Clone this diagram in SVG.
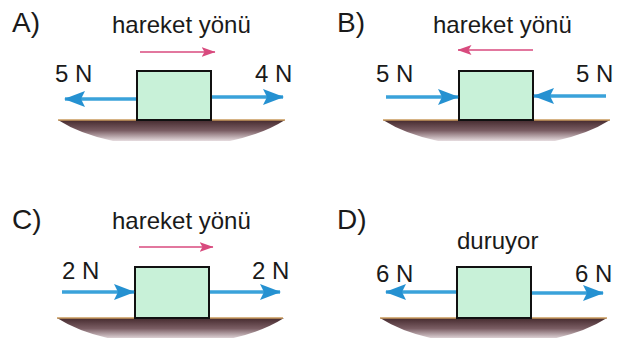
<svg xmlns="http://www.w3.org/2000/svg" width="633" height="338" viewBox="0 0 633 338">
<style>
.lbl{font-family:"Liberation Sans",Arial,sans-serif;font-size:28px;fill:#1a1a1a}
.t{font-family:"Liberation Sans",Arial,sans-serif;font-size:24px;fill:#1a1a1a}
.blk{fill:#c8f1d8;stroke:#111;stroke-width:2}
.fb{stroke:#3aa2da;stroke-width:3.5;fill:none}
.mv{stroke:#d84a7e;stroke-width:1.6;fill:none}
.gl{stroke:#c99a5c;stroke-width:1.5}
</style>
<defs>
<linearGradient id="gg" x1="0" y1="0" x2="0" y2="1">
<stop offset="0" stop-color="#452a2e"/>
<stop offset="0.5" stop-color="#7a5d63"/>
<stop offset="1" stop-color="#e6dcdf"/>
</linearGradient>
<path id="ground" d="M0,0 L227,0 Q205,14 172,21 L55,21 Q22,14 0,0 Z" fill="url(#gg)"/>
<marker id="bh" viewBox="0 0 21 16" refX="20" refY="8" markerWidth="21" markerHeight="16" markerUnits="userSpaceOnUse" orient="auto">
<path d="M0,0 L21,8 L0,16 L4,8 Z" fill="#2591d1"/>
</marker>
<marker id="ph" viewBox="0 0 14 10" refX="13.5" refY="5" markerWidth="14" markerHeight="10" markerUnits="userSpaceOnUse" orient="auto">
<path d="M0,0 L14,5 L0,10 L3,5 Z" fill="#d84a7e"/>
</marker>
</defs>

<g id="panelA">
<text class="lbl" x="12" y="32">A)</text>
<text class="t" x="112" y="33">hareket yönü</text>
<use href="#ground" x="58" y="120"/>
<line class="gl" x1="58" y1="120" x2="285" y2="120"/>
<rect class="blk" x="137" y="71" width="74" height="49"/>
<text class="t" x="55" y="82">5 N</text>
<text class="t" x="255" y="82">4 N</text>
</g>

<g id="panelB">
<text class="lbl" x="337" y="32">B)</text>
<text class="t" x="433" y="33">hareket yönü</text>
<use href="#ground" x="383" y="120"/>
<line class="gl" x1="383" y1="120" x2="610" y2="120"/>
<rect class="blk" x="459" y="71" width="74" height="49"/>
<text class="t" x="376" y="82">5 N</text>
<text class="t" x="576" y="82">5 N</text>
</g>

<g id="panelC">
<text class="lbl" x="12" y="229">C)</text>
<text class="t" x="112" y="229">hareket yönü</text>
<use href="#ground" x="57" y="318"/>
<line class="gl" x1="57" y1="318" x2="283" y2="318"/>
<rect class="blk" x="135" y="267" width="74" height="51"/>
<text class="t" x="62" y="279">2 N</text>
<text class="t" x="252" y="279">2 N</text>
</g>

<g id="panelD">
<text class="lbl" x="337" y="229">D)</text>
<text class="t" x="457" y="249">duruyor</text>
<use href="#ground" x="380" y="318"/>
<line class="gl" x1="380" y1="318" x2="607" y2="318"/>
<rect class="blk" x="457" y="267" width="74" height="51"/>
<text class="t" x="376" y="282">6 N</text>
<text class="t" x="575" y="282">6 N</text>
</g>

<g id="connectors">
<line class="mv" x1="140" y1="52" x2="215" y2="52" marker-end="url(#ph)"/>
<line class="mv" x1="533" y1="50" x2="458" y2="50" marker-end="url(#ph)"/>
<line class="mv" x1="139" y1="247" x2="213" y2="247" marker-end="url(#ph)"/>

<line class="fb" x1="136" y1="99" x2="65" y2="99" marker-end="url(#bh)"/>
<line class="fb" x1="212" y1="97" x2="283" y2="97" marker-end="url(#bh)"/>
<line class="fb" x1="386" y1="97" x2="458" y2="97" marker-end="url(#bh)"/>
<line class="fb" x1="606" y1="96" x2="534" y2="96" marker-end="url(#bh)"/>
<line class="fb" x1="62" y1="292" x2="134" y2="292" marker-end="url(#bh)"/>
<line class="fb" x1="210" y1="292" x2="280" y2="292" marker-end="url(#bh)"/>
<line class="fb" x1="456" y1="292" x2="386" y2="292" marker-end="url(#bh)"/>
<line class="fb" x1="532" y1="293" x2="603" y2="293" marker-end="url(#bh)"/>
</g>
</svg>
